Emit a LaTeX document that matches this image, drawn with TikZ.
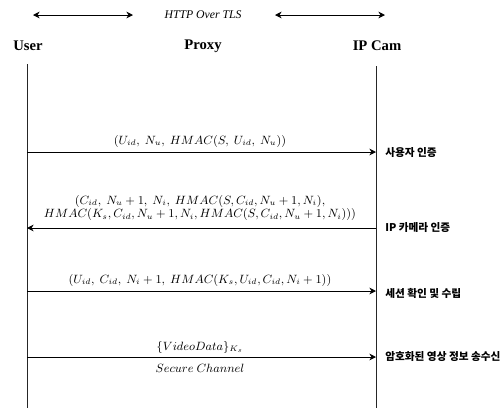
\documentclass[tikz,border=0pt]{standalone}
\usepackage{fontspec}
\setmainfont{Liberation Serif}
\newfontfamily\kofont{Noto Sans CJK KR}
\usetikzlibrary{arrows.meta,positioning}

\tikzset{
  actor/.style={font=\fontsize{11}{13}\selectfont\bfseries},
  lifeline/.style={line width=0.6pt, black!85},
  msg/.style={-{Stealth[length=5pt,width=5pt]}, line width=0.6pt},
  msglabel/.style={font=\small, align=center, inner sep=1pt},
  steplabel/.style={font=\kofont\fontsize{8}{10}\selectfont\bfseries, anchor=west, inner sep=0pt},
}

\begin{document}
\begin{tikzpicture}[x=0.75pt, y=-0.75pt]
  \useasboundingbox (0,0) rectangle (504,408);

  % header
  \node[font=\fontsize{8.8}{10}\selectfont\itshape] (tls) at (203,15) {HTTP Over TLS};
  \coordinate (tlsl1) at (33,15);
  \coordinate (tlsl2) at (133,15);
  \coordinate (tlsr1) at (275,15);
  \coordinate (tlsr2) at (385,15);
  \draw[{Stealth[length=5pt,width=5pt]}-{Stealth[length=5pt,width=5pt]}, line width=0.6pt] (tlsl1) -- (tlsl2);
  \draw[{Stealth[length=5pt,width=5pt]}-{Stealth[length=5pt,width=5pt]}, line width=0.6pt] (tlsr1) -- (tlsr2);

  \node[actor] (user)  at (28,46)  {User};
  \node[actor] (proxy) at (203,46) {Proxy};
  \node[actor] (cam)   at (377,46) {IP Cam};

  % lifelines
  \coordinate (utop) at (27,64);
  \coordinate (ubot) at (27,408);
  \coordinate (ctop) at (376,66);
  \coordinate (cbot) at (376,408);
  \draw[lifeline] (utop) -- (ubot);
  \draw[lifeline] (ctop) -- (cbot);

  % message ends
  \coordinate (u1) at (27,152);  \coordinate (c1) at (376,152);
  \coordinate (u2) at (27,228);  \coordinate (c2) at (376,228);
  \coordinate (u3) at (27,291);  \coordinate (c3) at (376,291);
  \coordinate (u4) at (27,357);  \coordinate (c4) at (376,357);

  % user authentication
  \draw[msg] (u1) -- (c1);
  \node[msglabel] (m1) at (200,141) {$(U_{id},\ N_u,\ HMAC(S,\ U_{id},\ N_u))$};
  \node[steplabel] (s1) at (385,153) {사용자 인증};

  % camera authentication
  \draw[msg] (c2) -- (u2);
  \node[msglabel] (m2) at (200,208) {$(C_{id},\ N_u+1,\ N_i,\ HMAC(S,C_{id},N_u+1,N_i),$\\[-1pt]
    $HMAC(K_s,C_{id},N_u+1,N_i,HMAC(S,C_{id},N_u+1,N_i)))$};
  \node[steplabel] (s2) at (385,228) {IP 카메라 인증};

  % session
  \draw[msg] (u3) -- (c3);
  \node[msglabel] (m3) at (200,280) {$(U_{id},\ C_{id},\ N_i+1,\ HMAC(K_s,U_{id},C_{id},N_i+1))$};
  \node[steplabel] (s3) at (385,293) {세션 확인 및 수립};

  % video data
  \draw[msg] (u4) -- (c4);
  \node[msglabel] (m4) at (200,347) {$\{VideoData\}_{K_s}$};
  \node[msglabel] (m4b) at (200,368) {$Secure\ Channel$};
  \node[steplabel] (s4) at (385,357) {암호화된 영상 정보 송수신};
\end{tikzpicture}
\end{document}
